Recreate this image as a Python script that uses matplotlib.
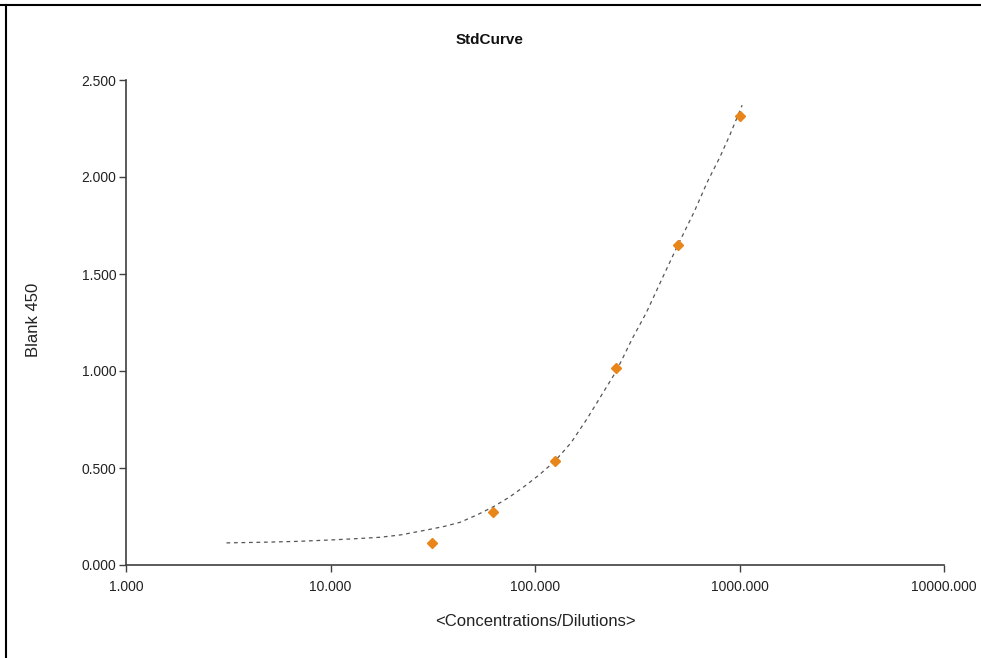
import matplotlib
matplotlib.use("Agg")
import matplotlib.pyplot as plt
from matplotlib.lines import Line2D
from matplotlib.ticker import FixedLocator, FuncFormatter, NullLocator

plt.rcParams['font.family'] = ['Liberation Sans', 'DejaVu Sans']

# Data
conc = [31.25, 62.5, 125, 250, 500, 1000]
blank450 = [0.115, 0.275, 0.535, 1.015, 1.648, 2.312]

fit_x = [3.1, 4, 5, 7, 10, 13, 17.5, 22, 30, 36, 43, 52, 62.5, 75, 90, 105, 125,
         150, 180, 210, 250, 300, 350, 420, 500, 600, 700, 800, 900, 1030]
fit_y = [0.114, 0.116, 0.118, 0.122, 0.129, 0.135, 0.143, 0.155, 0.182, 0.199, 0.22,
         0.258, 0.30, 0.35, 0.41, 0.465, 0.535, 0.63, 0.755, 0.87, 1.0, 1.17, 1.3,
         1.48, 1.65, 1.82, 1.98, 2.1, 2.22, 2.37]

x_ticks = [1, 10, 100, 1000, 10000]
y_ticks = [0, 0.5, 1.0, 1.5, 2.0, 2.5]

fig = plt.figure(figsize=(9.81, 6.58), dpi=100)
ax = fig.add_axes([126/981, 93/658, (944-126)/981, (565-80)/658])

ax.plot(fit_x, fit_y, linestyle=(0, (3, 3)), color='#555555', linewidth=0.9,
        zorder=2, solid_joinstyle='round')
ax.plot(conc, blank450, linestyle='none', marker='D', markersize=5.5,
        color='#E8861A', markeredgecolor='#E8861A', zorder=3)

ax.set_xscale('log')
ax.set_xlim(1, 10000)
ax.set_ylim(0, 2.5)
ax.xaxis.set_major_locator(FixedLocator(x_ticks))
ax.xaxis.set_minor_locator(NullLocator())
ax.xaxis.set_major_formatter(FuncFormatter(lambda v, p: f"{v:.3f}"))
ax.yaxis.set_major_locator(FixedLocator(y_ticks))
ax.yaxis.set_major_formatter(FuncFormatter(lambda v, p: f"{v:.3f}"))

for s in ['top', 'right']:
    ax.spines[s].set_visible(False)
for s in ['left', 'bottom']:
    ax.spines[s].set_color('#404040')
    ax.spines[s].set_linewidth(1.2)
ax.tick_params(axis='both', direction='out', length=5, width=1, color='#404040',
               labelsize=10, labelcolor='#222222')
ax.tick_params(axis='x', pad=6)
ax.tick_params(axis='y', pad=2)

ax.set_xlabel('<Concentrations/Dilutions>', fontsize=12, color='#222222', labelpad=14)
fig.text(33/981, 1 - 320/658, 'Blank 450', rotation=90, fontsize=12, color='#222222',
         ha='center', va='center')
fig.text(490/981, 1 - 40/658, 'StdCurve', fontsize=11, fontweight='bold', color='#111111',
         ha='center', va='center')

# Outer frame lines (top and left visible)
fig.add_artist(Line2D([0, 1], [1 - 5/658, 1 - 5/658], transform=fig.transFigure,
                      color='black', linewidth=1.5))
fig.add_artist(Line2D([6/981, 6/981], [0, 1 - 5/658], transform=fig.transFigure,
                      color='black', linewidth=1.5))

fig.savefig('out.png', dpi=100)
